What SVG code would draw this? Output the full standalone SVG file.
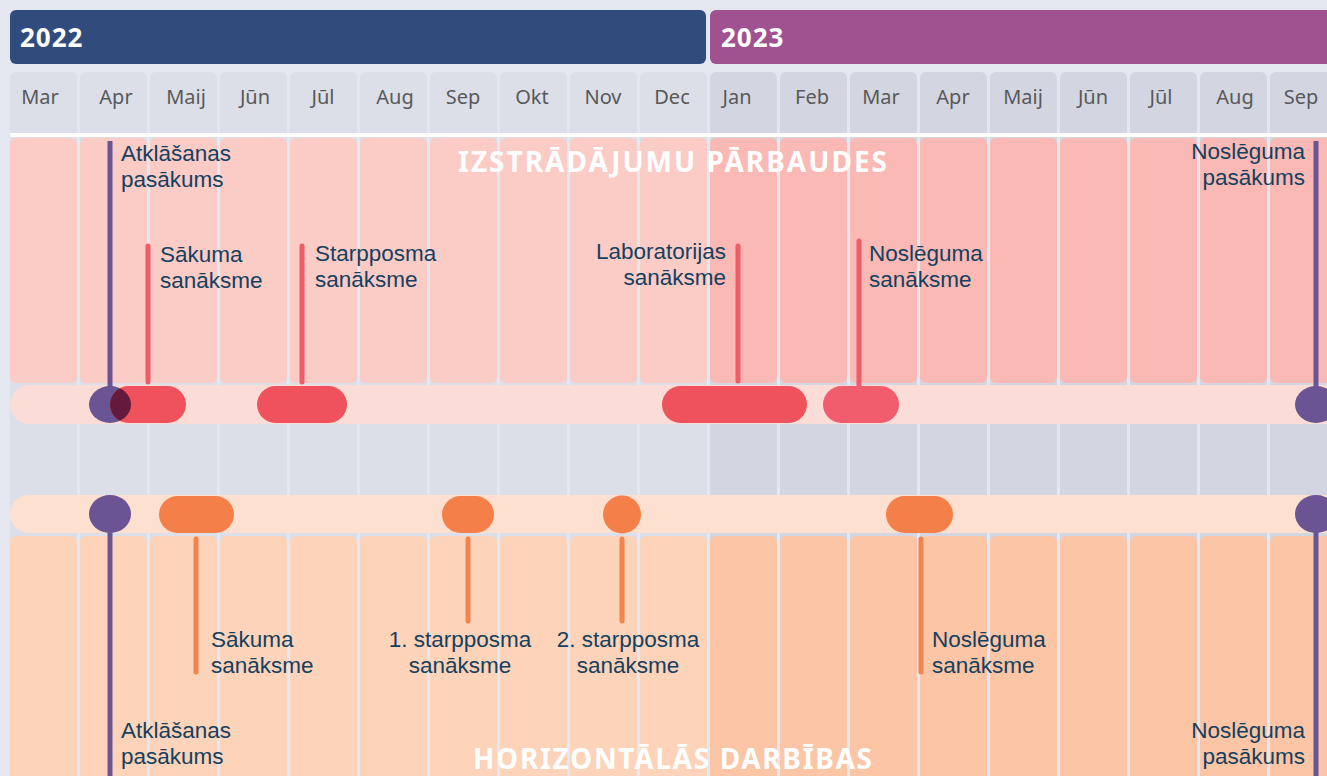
<svg xmlns="http://www.w3.org/2000/svg" width="1327" height="776" viewBox="0 0 1327 776">
<defs>
<style>
.col22{fill:#dcdfe7}.col23{fill:#d3d6e0}
.pk22{fill:#fbcbc6}.pk23{fill:#fab9b4}
.or22{fill:#fdd3b9}.or23{fill:#fbc5a6}
.mon{font-family:"Noto Sans","Liberation Sans",sans-serif;font-size:20px;fill:#58595b;text-anchor:middle}
.yr{font-family:"Noto Sans","Liberation Sans",sans-serif;font-size:26px;font-weight:bold;fill:#fff;letter-spacing:1px}
.ttl{font-family:"Noto Sans","Liberation Sans",sans-serif;font-size:28px;font-weight:bold;fill:#fff}
.lbl{font-family:"Liberation Sans","Noto Sans",sans-serif;font-size:22.5px;fill:#15405e}
.r{text-anchor:end}.m{text-anchor:middle}
.pl{stroke:#6a5494;stroke-width:5;fill:none}
.rl{stroke:#f05b68;stroke-width:5;stroke-linecap:round;fill:none}
.ol{stroke:#f6834c;stroke-width:5;stroke-linecap:round;fill:none}
.pc{fill:#6a5494}.rb{fill:#ef525c}.ob{fill:#f47f48}
</style>
<clipPath id="clipA"><rect x="110" y="386" width="76" height="37" rx="18.5"/></clipPath>
</defs>
<rect width="1327" height="776" fill="#e4e7ef"/>
<g id="years">
<rect x="10" y="10" width="696" height="54" rx="6" fill="#314c7c"/>
<rect x="710" y="10" width="640" height="54" rx="6" fill="#a05190"/>
<text class="yr" x="20" y="47">2022</text>
<text class="yr" x="721" y="47">2023</text>
</g>
<g id="columns">
<rect class="col22" x="10" y="72" width="67" height="720" rx="6"/>
<rect class="col22" x="80" y="72" width="67" height="720" rx="6"/>
<rect class="col22" x="150" y="72" width="67" height="720" rx="6"/>
<rect class="col22" x="220" y="72" width="67" height="720" rx="6"/>
<rect class="col22" x="290" y="72" width="67" height="720" rx="6"/>
<rect class="col22" x="360" y="72" width="67" height="720" rx="6"/>
<rect class="col22" x="430" y="72" width="67" height="720" rx="6"/>
<rect class="col22" x="500" y="72" width="67" height="720" rx="6"/>
<rect class="col22" x="570" y="72" width="67" height="720" rx="6"/>
<rect class="col22" x="640" y="72" width="67" height="720" rx="6"/>
<rect class="col23" x="710" y="72" width="67" height="720" rx="6"/>
<rect class="col23" x="780" y="72" width="67" height="720" rx="6"/>
<rect class="col23" x="850" y="72" width="67" height="720" rx="6"/>
<rect class="col23" x="920" y="72" width="67" height="720" rx="6"/>
<rect class="col23" x="990" y="72" width="67" height="720" rx="6"/>
<rect class="col23" x="1060" y="72" width="67" height="720" rx="6"/>
<rect class="col23" x="1130" y="72" width="67" height="720" rx="6"/>
<rect class="col23" x="1200" y="72" width="67" height="720" rx="6"/>
<rect class="col23" x="1270" y="72" width="67" height="720" rx="6"/>
</g>
<g id="months">
<text class="mon" x="40" y="104">Mar</text>
<text class="mon" x="116" y="104">Apr</text>
<text class="mon" x="186" y="104">Maij</text>
<text class="mon" x="255" y="104">Jūn</text>
<text class="mon" x="323" y="104">Jūl</text>
<text class="mon" x="395" y="104">Aug</text>
<text class="mon" x="463" y="104">Sep</text>
<text class="mon" x="532" y="104">Okt</text>
<text class="mon" x="603" y="104">Nov</text>
<text class="mon" x="672" y="104">Dec</text>
<text class="mon" x="737" y="104">Jan</text>
<text class="mon" x="812" y="104">Feb</text>
<text class="mon" x="881" y="104">Mar</text>
<text class="mon" x="953" y="104">Apr</text>
<text class="mon" x="1023" y="104">Maij</text>
<text class="mon" x="1093" y="104">Jūn</text>
<text class="mon" x="1161" y="104">Jūl</text>
<text class="mon" x="1235" y="104">Aug</text>
<text class="mon" x="1301" y="104">Sep</text>
</g>
<rect x="10" y="133" width="1317" height="4" fill="#ffffff"/>
<g id="section-top">
<rect class="pk22" x="10" y="138" width="67" height="245" rx="6"/>
<rect class="pk22" x="80" y="138" width="67" height="245" rx="6"/>
<rect class="pk22" x="150" y="138" width="67" height="245" rx="6"/>
<rect class="pk22" x="220" y="138" width="67" height="245" rx="6"/>
<rect class="pk22" x="290" y="138" width="67" height="245" rx="6"/>
<rect class="pk22" x="360" y="138" width="67" height="245" rx="6"/>
<rect class="pk22" x="430" y="138" width="67" height="245" rx="6"/>
<rect class="pk22" x="500" y="138" width="67" height="245" rx="6"/>
<rect class="pk22" x="570" y="138" width="67" height="245" rx="6"/>
<rect class="pk22" x="640" y="138" width="67" height="245" rx="6"/>
<rect class="pk23" x="710" y="138" width="67" height="245" rx="6"/>
<rect class="pk23" x="780" y="138" width="67" height="245" rx="6"/>
<rect class="pk23" x="850" y="138" width="67" height="245" rx="6"/>
<rect class="pk23" x="920" y="138" width="67" height="245" rx="6"/>
<rect class="pk23" x="990" y="138" width="67" height="245" rx="6"/>
<rect class="pk23" x="1060" y="138" width="67" height="245" rx="6"/>
<rect class="pk23" x="1130" y="138" width="67" height="245" rx="6"/>
<rect class="pk23" x="1200" y="138" width="67" height="245" rx="6"/>
<rect class="pk23" x="1270" y="138" width="67" height="245" rx="6"/>
<text class="ttl" x="458" y="172" textLength="429" lengthAdjust="spacing">IZSTRĀDĀJUMU PĀRBAUDES</text>
<rect x="10" y="385" width="1340" height="39" rx="19.5" fill="#fbdcd6"/>
</g>
<g id="section-bottom">
<rect class="or22" x="10" y="536" width="67" height="260" rx="6"/>
<rect class="or22" x="80" y="536" width="67" height="260" rx="6"/>
<rect class="or22" x="150" y="536" width="67" height="260" rx="6"/>
<rect class="or22" x="220" y="536" width="67" height="260" rx="6"/>
<rect class="or22" x="290" y="536" width="67" height="260" rx="6"/>
<rect class="or22" x="360" y="536" width="67" height="260" rx="6"/>
<rect class="or22" x="430" y="536" width="67" height="260" rx="6"/>
<rect class="or22" x="500" y="536" width="67" height="260" rx="6"/>
<rect class="or22" x="570" y="536" width="67" height="260" rx="6"/>
<rect class="or22" x="640" y="536" width="67" height="260" rx="6"/>
<rect class="or23" x="710" y="536" width="67" height="260" rx="6"/>
<rect class="or23" x="780" y="536" width="67" height="260" rx="6"/>
<rect class="or23" x="850" y="536" width="67" height="260" rx="6"/>
<rect class="or23" x="920" y="536" width="67" height="260" rx="6"/>
<rect class="or23" x="990" y="536" width="67" height="260" rx="6"/>
<rect class="or23" x="1060" y="536" width="67" height="260" rx="6"/>
<rect class="or23" x="1130" y="536" width="67" height="260" rx="6"/>
<rect class="or23" x="1200" y="536" width="67" height="260" rx="6"/>
<rect class="or23" x="1270" y="536" width="67" height="260" rx="6"/>
<text class="ttl" x="473" y="769" textLength="399" lengthAdjust="spacing">HORIZONTĀLĀS DARBĪBAS</text>
<rect x="10" y="495" width="1340" height="38" rx="19" fill="#fee0d1"/>
</g>
<g id="connectors">
<line class="pl" x1="110" y1="141" x2="110" y2="404"/>
<line class="pl" x1="1316" y1="141" x2="1316" y2="404"/>
<line class="rl" x1="148" y1="246" x2="148" y2="382"/>
<line class="rl" x1="302" y1="246" x2="302" y2="382"/>
<line class="rl" x1="738" y1="246" x2="738" y2="381"/>
<line class="rl" x1="859" y1="241" x2="859" y2="390"/>
<line class="pl" x1="110" y1="514" x2="110" y2="780"/>
<line class="pl" x1="1316" y1="514" x2="1316" y2="780"/>
<line class="ol" x1="196" y1="539" x2="196" y2="672"/>
<line class="ol" x1="468" y1="539" x2="468" y2="621"/>
<line class="ol" x1="622" y1="539" x2="622" y2="621"/>
<line class="ol" x1="921" y1="539" x2="921" y2="672"/>
</g>
<g id="atklasanas-top">
<ellipse class="pc" cx="110" cy="404.5" rx="21" ry="18.5"/>
<text class="lbl" x="121" y="161">Atklāšanas</text>
<text class="lbl" x="121" y="187">pasākums</text>
</g>
<g id="sakuma-top">
<rect class="rb" x="110" y="386" width="76" height="37" rx="18.5"/>
<ellipse cx="110" cy="404.5" rx="21" ry="18.5" fill="#631a3c" clip-path="url(#clipA)"/>
<text class="lbl" x="160" y="262">Sākuma</text>
<text class="lbl" x="160" y="288">sanāksme</text>
</g>
<g id="starpposma-top">
<rect class="rb" x="257" y="386" width="90" height="37" rx="18.5"/>
<text class="lbl" x="315" y="261">Starpposma</text>
<text class="lbl" x="315" y="287">sanāksme</text>
</g>
<g id="laboratorijas-top">
<rect class="rb" x="662" y="386" width="145" height="37" rx="18.5"/>
<text class="lbl r" x="726" y="259">Laboratorijas</text>
<text class="lbl r" x="726" y="285">sanāksme</text>
</g>
<g id="nosleguma-top">
<rect x="823" y="386" width="76" height="37" rx="18.5" fill="#f25d6e"/>
<text class="lbl" x="869" y="261">Noslēguma</text>
<text class="lbl" x="869" y="287">sanāksme</text>
</g>
<g id="nosleguma-pasakums-top">
<ellipse class="pc" cx="1316" cy="404.5" rx="21" ry="18.5"/>
<text class="lbl r" x="1305" y="159">Noslēguma</text>
<text class="lbl r" x="1305" y="185">pasākums</text>
</g>
<g id="atklasanas-bottom">
<ellipse class="pc" cx="110" cy="514" rx="21" ry="19"/>
<text class="lbl" x="121" y="738">Atklāšanas</text>
<text class="lbl" x="121" y="764">pasākums</text>
</g>
<g id="sakuma-bottom">
<rect class="ob" x="159" y="496" width="75" height="37" rx="18.5"/>
<text class="lbl" x="211" y="647">Sākuma</text>
<text class="lbl" x="211" y="673">sanāksme</text>
</g>
<g id="starpposma1-bottom">
<rect class="ob" x="442" y="496" width="52" height="37" rx="18.5"/>
<text class="lbl m" x="460" y="647">1. starpposma</text>
<text class="lbl m" x="460" y="673">sanāksme</text>
</g>
<g id="starpposma2-bottom">
<circle class="ob" cx="622" cy="514.5" r="19"/>
<text class="lbl m" x="628" y="647">2. starpposma</text>
<text class="lbl m" x="628" y="673">sanāksme</text>
</g>
<g id="nosleguma-bottom">
<rect class="ob" x="886" y="496" width="67" height="37" rx="18.5"/>
<text class="lbl" x="932" y="647">Noslēguma</text>
<text class="lbl" x="932" y="673">sanāksme</text>
</g>
<g id="nosleguma-pasakums-bottom">
<ellipse class="pc" cx="1316" cy="514" rx="21" ry="19"/>
<text class="lbl r" x="1305" y="738">Noslēguma</text>
<text class="lbl r" x="1305" y="764">pasākums</text>
</g>
</svg>
